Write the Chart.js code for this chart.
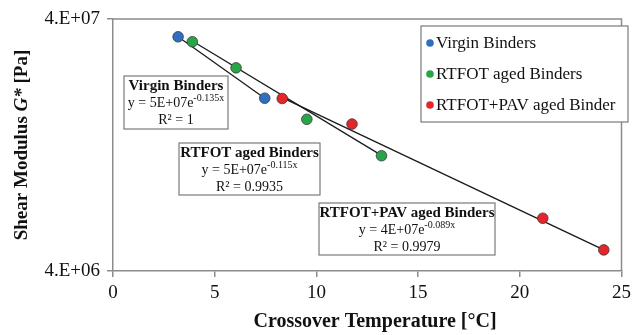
<!DOCTYPE html>
<html>
<head>
<meta charset="utf-8">
<script src="https://cdn.jsdelivr.net/npm/chart.js@4.4.1/dist/chart.umd.min.js"></script>
<style>
  html, body { margin: 0; padding: 0; background: #fff; }
  #wrap { width: 636px; height: 335px; }
</style>
</head>
<body>
<div id="wrap"><canvas id="chart" width="636" height="335"></canvas></div>
<script>
// measured points (crossover temperature in °C, G* in Pa)
const seriesNames = ['Virgin Binders', 'RTFOT aged Binders', 'RTFOT+PAV aged Binder'];
const seriesColors = ['#2f6ec0', '#27a548', '#e3262a'];

const virginTemp = [3.20, 7.46];
const virginG = [3.40e7, 1.94e7];
const rtfotTemp = [3.90, 6.05, 9.53, 13.20];
const rtfotG = [3.25e7, 2.56e7, 1.60e7, 1.147e7];
const pavTemp = [8.32, 11.75, 21.13, 24.13];
const pavG = [1.934e7, 1.532e7, 6.48e6, 4.85e6];

// trend line ends
const virginTrendTemp = [3.20, 7.46];
const virginTrendG = [3.40e7, 1.94e7];
const rtfotTrendTemp = [3.90, 13.20];
const rtfotTrendG = [3.27e7, 1.15e7];
const pavTrendTemp = [8.32, 24.13];
const pavTrendG = [1.95e7, 4.85e6];

// fit labels
const fitNames = ['Virgin Binders', 'RTFOT aged Binders', 'RTFOT+PAV aged Binders'];
const fitCoef = ['5E+07', '5E+07', '4E+07'];
const fitExp = ['-0.135x', '-0.115x', '-0.089x'];
const fitR2 = ['1', '0.9935', '0.9979'];

const xTicks = [0, 5, 10, 15, 20, 25];
const yTicks = [4e6, 4e7];
const yTickLabels = ['4.E+06', '4.E+07'];

const serif = "'Liberation Serif', 'Times New Roman', serif";
const axisGrey = '#8c8c8c';

function toPoints(xs, ys) {
    return xs.map((x, i) => ({ x: x, y: ys[i] }));
}

const pointSets = [
    toPoints(virginTemp, virginG),
    toPoints(rtfotTemp, rtfotG),
    toPoints(pavTemp, pavG)
];
const trendSets = [
    toPoints(virginTrendTemp, virginTrendG),
    toPoints(rtfotTrendTemp, rtfotTrendG),
    toPoints(pavTrendTemp, pavTrendG)
];

// where the equation boxes sit (pixels)
const boxLayout = [
    { left: 124, top: 76, width: 104, height: 53 },
    { left: 179, top: 143, width: 141, height: 52 },
    { left: 319, top: 203, width: 176, height: 52 }
];

const datasets = [];
trendSets.forEach(pts => {
    datasets.push({
        data: pts,
        showLine: true,
        borderColor: '#1a1a1a',
        borderWidth: 1.3,
        pointRadius: 0,
        order: 2
    });
});
pointSets.forEach((pts, i) => {
    datasets.push({
        label: seriesNames[i],
        data: pts,
        backgroundColor: seriesColors[i],
        borderColor: '#3a3a3a',
        borderWidth: 0.8,
        pointRadius: 5.3,
        order: 1
    });
});

const framePlugin = {
    id: 'frame',
    afterDraw(chart) {
        const ctx = chart.ctx;
        const a = chart.chartArea;
        ctx.save();
        ctx.strokeStyle = axisGrey;
        ctx.lineWidth = 1.5;
        ctx.beginPath();
        ctx.moveTo(a.left, a.top);
        ctx.lineTo(a.right, a.top);
        ctx.lineTo(a.right, a.bottom);
        ctx.stroke();

        // equation boxes
        boxLayout.forEach((b, i) => {
            ctx.fillStyle = '#fff';
            ctx.fillRect(b.left, b.top, b.width, b.height);
            ctx.strokeStyle = '#7a7a7a';
            ctx.lineWidth = 1.2;
            ctx.strokeRect(b.left, b.top, b.width, b.height);
            const cx = b.left + b.width / 2;
            ctx.fillStyle = '#111';
            ctx.textBaseline = 'middle';
            ctx.textAlign = 'left';

            ctx.font = 'bold 15px ' + serif;
            let w = ctx.measureText(fitNames[i]).width;
            ctx.fillText(fitNames[i], cx - w / 2, b.top + 10.5);

            const base = 'y = ' + fitCoef[i] + 'e';
            ctx.font = '14px ' + serif;
            const w1 = ctx.measureText(base).width;
            ctx.font = '10px ' + serif;
            const w2 = ctx.measureText(fitExp[i]).width;
            let x0 = cx - (w1 + w2) / 2;
            ctx.font = '14px ' + serif;
            ctx.fillText(base, x0, b.top + 27);
            ctx.font = '10px ' + serif;
            ctx.fillText(fitExp[i], x0 + w1, b.top + 22);

            const r2 = 'R² = ' + fitR2[i];
            ctx.font = '14px ' + serif;
            w = ctx.measureText(r2).width;
            ctx.fillText(r2, cx - w / 2, b.top + 44);
        });

        // legend
        const lg = { left: 421, top: 26, width: 207, height: 96 };
        ctx.fillStyle = '#fff';
        ctx.fillRect(lg.left, lg.top, lg.width, lg.height);
        ctx.strokeStyle = '#7a7a7a';
        ctx.lineWidth = 1.2;
        ctx.strokeRect(lg.left, lg.top, lg.width, lg.height);
        ctx.font = '17px ' + serif;
        seriesNames.forEach((name, i) => {
            const y = lg.top + 17 + i * 31;
            ctx.beginPath();
            ctx.arc(lg.left + 9, y, 3.8, 0, Math.PI * 2);
            ctx.fillStyle = seriesColors[i];
            ctx.fill();
            ctx.fillStyle = '#111';
            ctx.textAlign = 'left';
            ctx.textBaseline = 'middle';
            ctx.fillText(name, lg.left + 15, y + 1);
        });

        // axis titles
        ctx.fillStyle = '#111';
        ctx.textBaseline = 'middle';
        ctx.font = 'bold 20px ' + serif;
        const xt = 'Crossover Temperature [°C]';
        const xw = ctx.measureText(xt).width;
        ctx.fillText(xt, 375 - xw / 2, 322);

        ctx.translate(22, 145);
        ctx.rotate(-Math.PI / 2);
        const parts = [
            ['bold 19px ' + serif, 'Shear Modulus '],
            ['italic bold 19px ' + serif, 'G*'],
            ['bold 19px ' + serif, ' [Pa]']
        ];
        let total = 0;
        parts.forEach(p => { ctx.font = p[0]; total += ctx.measureText(p[1]).width; });
        let px = -total / 2;
        parts.forEach(p => {
            ctx.font = p[0];
            ctx.fillText(p[1], px, 0);
            px += ctx.measureText(p[1]).width;
        });
        ctx.restore();
    }
};

new Chart(document.getElementById('chart').getContext('2d'), {
    type: 'scatter',
    data: { datasets: datasets },
    options: {
        responsive: false,
        animation: false,
        layout: { padding: { top: 19, right: 8, left: 0, bottom: 0 } },
        plugins: {
            legend: { display: false },
            tooltip: { enabled: false }
        },
        scales: {
            x: {
                type: 'linear',
                min: 0,
                max: 25,
                afterBuildTicks: scale => { scale.ticks = xTicks.map(v => ({ value: v })); },
                afterFit: scale => { scale.height = 64; },
                grid: { drawOnChartArea: false, drawTicks: true, tickLength: 6, color: axisGrey, lineWidth: 1.5 },
                border: { color: axisGrey, width: 1.5 },
                ticks: { padding: 5, color: '#111', font: { family: serif, size: 19 }, maxRotation: 0 }
            },
            y: {
                type: 'logarithmic',
                min: 4e6,
                max: 4e7,
                afterBuildTicks: scale => { scale.ticks = yTicks.map(v => ({ value: v })); },
                afterFit: scale => { scale.width = 113; },
                grid: { drawOnChartArea: false, drawTicks: true, tickLength: 6, color: axisGrey, lineWidth: 1.5 },
                border: { color: axisGrey, width: 1.5 },
                ticks: {
                    padding: 7,
                    color: '#111',
                    font: { family: serif, size: 19 },
                    callback: function(value) {
                        const i = yTicks.indexOf(value);
                        return i >= 0 ? yTickLabels[i] : '';
                    }
                }
            }
        }
    },
    plugins: [framePlugin]
});
</script>
</body>
</html>
